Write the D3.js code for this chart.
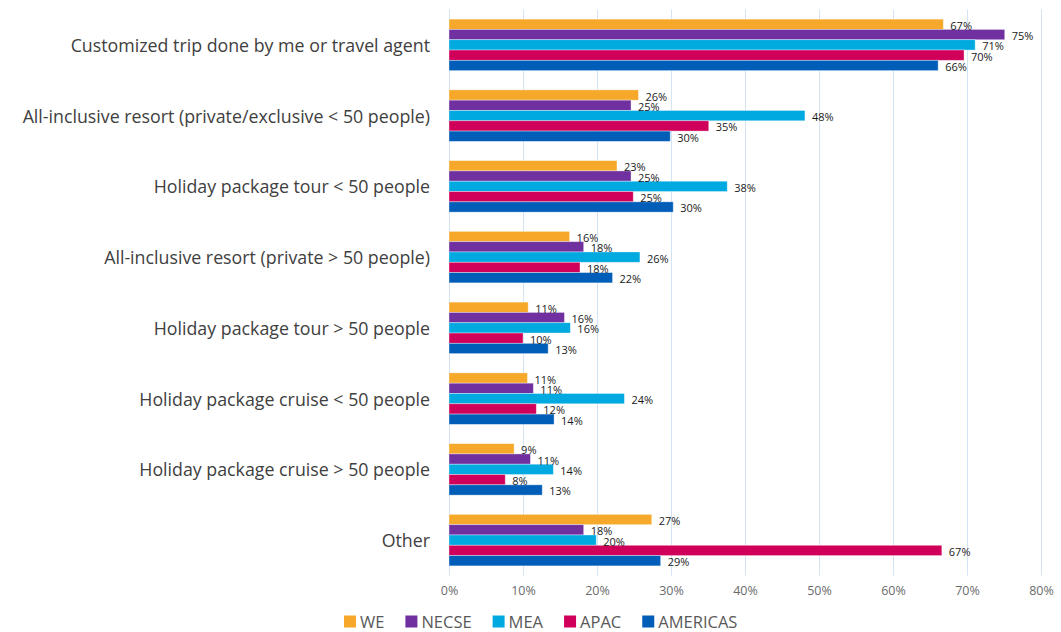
<!DOCTYPE html>
<html>
<head>
<meta charset="utf-8">
<script src="https://cdn.jsdelivr.net/npm/d3@7"></script>
<style>
  html, body { margin: 0; padding: 0; background: #ffffff; }
  svg { display: block; font-family: "Open Sans", "DejaVu Sans", sans-serif; }
</style>
</head>
<body>
<svg id="chart" width="1061" height="632"></svg>
<script>
// ---- data ----
const categories = [
  "Customized trip done by me or travel agent",
  "All-inclusive resort (private/exclusive < 50 people)",
  "Holiday package tour < 50 people",
  "All-inclusive resort (private > 50 people)",
  "Holiday package tour > 50 people",
  "Holiday package cruise < 50 people",
  "Holiday package cruise > 50 people",
  "Other"
];
const seriesNames = ["WE", "NECSE", "MEA", "APAC", "AMERICAS"];
const seriesColors = ["#F5A82A", "#7030A0", "#00A9E0", "#D0005A", "#005EB8"];
const WE       = [66.8, 25.6, 22.7, 16.3, 10.7, 10.6, 8.8, 27.4];
const NECSE    = [75.1, 24.6, 24.6, 18.2, 15.6, 11.4, 11.0, 18.2];
const MEA      = [71.1, 48.1, 37.6, 25.8, 16.4, 23.7, 14.1, 19.9];
const APAC     = [69.6, 35.1, 24.9, 17.7, 10.0, 11.8, 7.6, 66.6];
const AMERICAS = [66.1, 29.9, 30.3, 22.1, 13.4, 14.2, 12.6, 28.6];
const seriesValues = [WE, NECSE, MEA, APAC, AMERICAS];
const xTicks = [0, 10, 20, 30, 40, 50, 60, 70, 80];

// ---- layout ----
const svg = d3.select("#chart");
const plotLeft = 449, plotRight = 1041, plotTop = 9.5, plotBottom = 575.5;

const x = d3.scaleLinear().domain([0, 80]).range([plotLeft, plotRight]);
const y0 = d3.scaleBand().domain(categories).range([plotTop, plotBottom]).paddingInner(0.272).paddingOuter(0.136);
const y1 = d3.scaleBand().domain(seriesNames).range([0, y0.bandwidth()]);

// gridlines
svg.append("g")
  .selectAll("line")
  .data(xTicks)
  .join("line")
  .attr("x1", d => Math.round(x(d)) + 0.5)
  .attr("x2", d => Math.round(x(d)) + 0.5)
  .attr("y1", plotTop)
  .attr("y2", plotBottom)
  .attr("stroke", "#d3e4f7")
  .attr("stroke-width", 1);

// x axis labels
const xAxis = d3.axisBottom(x).tickValues(xTicks).tickFormat(d => d + "%").tickSize(0).tickPadding(0);
const gx = svg.append("g").attr("transform", `translate(0,${plotBottom + 5})`).call(xAxis);
gx.select(".domain").remove();
gx.selectAll("text")
  .attr("dy", "0.71em")
  .attr("y", 6)
  .attr("fill", "#6b6b6b")
  .attr("font-size", 12.5)
  .attr("font-family", "'Open Sans', sans-serif");

// bars
const groups = svg.append("g")
  .selectAll("g")
  .data(categories)
  .join("g")
  .attr("transform", d => `translate(0,${y0(d)})`);

groups.each(function(cat, ci) {
  const g = d3.select(this);
  const rows = seriesNames.map((s, si) => ({ s, si, v: seriesValues[si][ci] }));
  g.selectAll("rect")
    .data(rows)
    .join("rect")
    .attr("x", x(0))
    .attr("y", d => y1(d.s))
    .attr("width", d => x(d.v) - x(0))
    .attr("height", y1.bandwidth())
    .attr("fill", d => seriesColors[d.si])
    .attr("stroke", "#ffffff")
    .attr("stroke-opacity", 0.45)
    .attr("stroke-width", 0.8);
  g.selectAll("text")
    .data(rows)
    .join("text")
    .attr("x", d => x(d.v) + 7)
    .attr("y", d => y1(d.s) + y1.bandwidth() / 2 + 1)
    .attr("dominant-baseline", "central")
    .attr("font-size", 11)
    .attr("fill", "#1a1a1a")
    .text(d => Math.round(d.v) + "%");
});

// category labels
svg.append("g")
  .selectAll("text")
  .data(categories)
  .join("text")
  .attr("x", 430)
  .attr("y", d => y0(d) + y0.bandwidth() / 2)
  .attr("dominant-baseline", "central")
  .attr("text-anchor", "end")
  .attr("font-size", 17.8)
  .attr("fill", "#404040")
  .text(d => d);

// legend
const legend = svg.append("g").attr("transform", "translate(344,615.5)");
let lx = 0;
seriesNames.forEach((s, i) => {
  const item = legend.append("g").attr("transform", `translate(${lx},0)`);
  item.append("rect").attr("width", 12).attr("height", 12).attr("fill", seriesColors[i]);
  const t = item.append("text")
    .attr("x", 16)
    .attr("y", 12)
    .attr("font-size", 16.5)
    .attr("fill", "#595959")
    .text(s);
  lx += 16 + t.node().getComputedTextLength() + 21;
});
</script>
</body>
</html>
